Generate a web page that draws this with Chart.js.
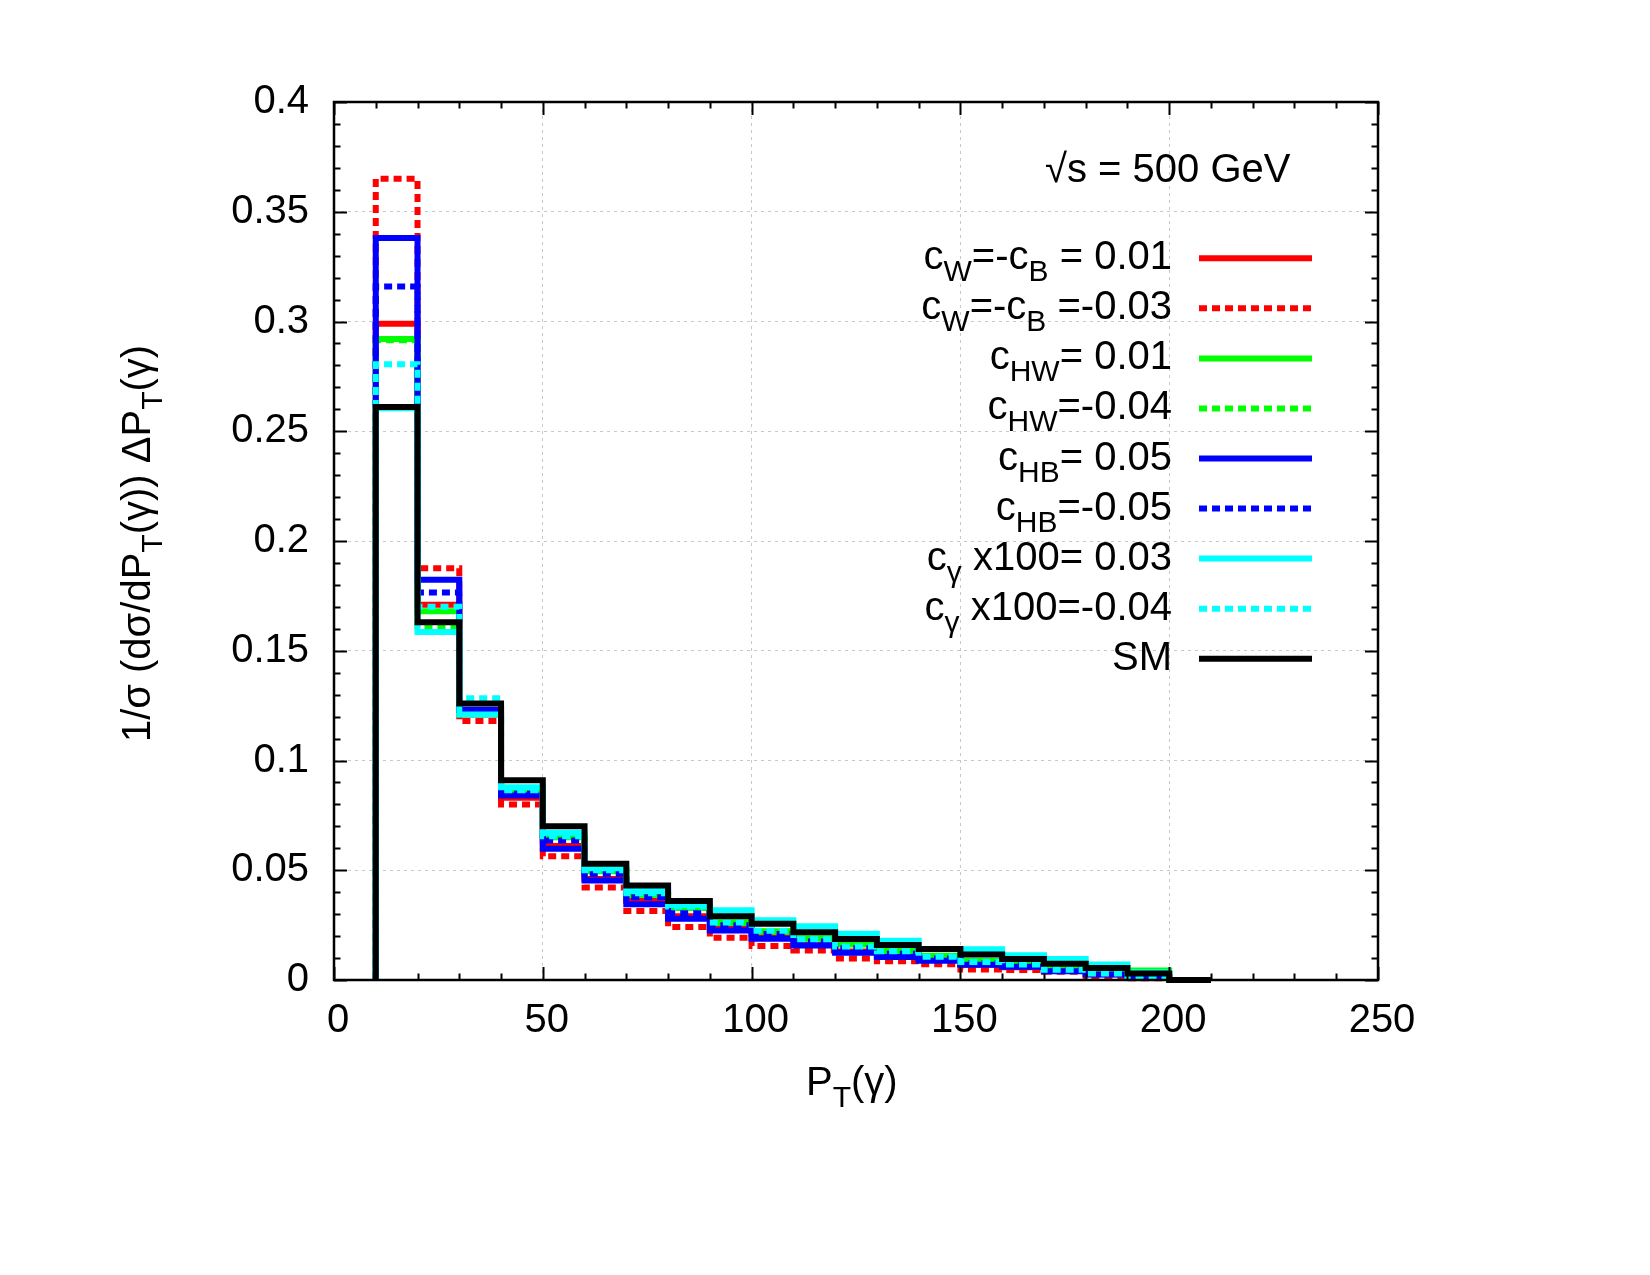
<!DOCTYPE html>
<html>
<head>
<meta charset="utf-8">
<script src="https://cdn.jsdelivr.net/npm/chart.js@4/dist/chart.umd.min.js"></script>
<style>html,body{margin:0;padding:0;background:#fff;}canvas{display:block;}</style>
</head>
<body>
<canvas id="c" width="1650" height="1275"></canvas>
<script>
// ---------- data ----------
const binLow = [10, 20, 30, 40, 50, 60, 70, 80, 90, 100, 110, 120, 130, 140, 150, 160, 170, 180, 190, 200];
const binLastEdge = 210;

const cwcbPos = [0.299, 0.171, 0.121, 0.083, 0.061, 0.046, 0.036, 0.029, 0.0235, 0.0195, 0.016, 0.013, 0.011, 0.0092, 0.0070, 0.0058, 0.0042, 0.0026, 0.0012, 0.0];
const cwcbNeg = [0.365, 0.1876, 0.118, 0.080, 0.0564, 0.0421, 0.0314, 0.0241, 0.0192, 0.0155, 0.0134, 0.0098, 0.0085, 0.0072, 0.0048, 0.0045, 0.0038, 0.0018, 0.0008, 0.0];
const chwPos  = [0.292, 0.168, 0.122, 0.086, 0.0655, 0.050, 0.039, 0.033, 0.0263, 0.0222, 0.019, 0.0165, 0.0135, 0.011, 0.0088, 0.0072, 0.0052, 0.0033, 0.0043, 0.0];
const chwNeg  = [0.2915, 0.161, 0.121, 0.0855, 0.065, 0.0495, 0.0388, 0.0328, 0.026, 0.022, 0.0188, 0.0162, 0.0132, 0.0108, 0.0086, 0.007, 0.005, 0.0032, 0.0035, 0.0];
const chbPos  = [0.338, 0.1823, 0.1231, 0.0841, 0.0598, 0.0453, 0.0345, 0.0279, 0.0226, 0.0188, 0.0157, 0.0124, 0.0105, 0.0088, 0.0070, 0.0060, 0.0040, 0.0025, 0.0010, 0.0];
const chbNeg  = [0.316, 0.1765, 0.123, 0.085, 0.0636, 0.0484, 0.0377, 0.0304, 0.025, 0.021, 0.0175, 0.0145, 0.012, 0.0098, 0.0078, 0.0066, 0.0045, 0.0028, 0.0012, 0.0];
const cgPos   = [0.2605, 0.1585, 0.121, 0.0878, 0.0671, 0.0509, 0.0405, 0.0342, 0.0318, 0.0272, 0.0245, 0.0211, 0.0179, 0.0141, 0.0140, 0.0113, 0.0096, 0.0071, 0.0035, 0.0];
const cgNeg   = [0.2805, 0.170, 0.1284, 0.0865, 0.0655, 0.0500, 0.0395, 0.0335, 0.0262, 0.0224, 0.0186, 0.0153, 0.0131, 0.0106, 0.0082, 0.0071, 0.0047, 0.0030, 0.0010, 0.0];
const smVals  = [0.261, 0.163, 0.126, 0.091, 0.070, 0.053, 0.043, 0.036, 0.029, 0.0256, 0.0217, 0.0187, 0.0160, 0.0141, 0.0116, 0.0096, 0.0074, 0.0055, 0.0030, 0.0];

const xTicks = [0, 50, 100, 150, 200, 250];
const xTickLabels = ['0', '50', '100', '150', '200', '250'];
const yTicks = [0, 0.05, 0.1, 0.15, 0.2, 0.25, 0.3, 0.35, 0.4];
const yTickLabels = ['0', '0.05', '0.1', '0.15', '0.2', '0.25', '0.3', '0.35', '0.4'];

// legend texts as [text, isSubscript] segments
const legendTexts = [
  [['c',0],['W',1],['=-c',0],['B',1],[' = 0.01',0]],
  [['c',0],['W',1],['=-c',0],['B',1],[' =-0.03',0]],
  [['c',0],['HW',1],['= 0.01',0]],
  [['c',0],['HW',1],['=-0.04',0]],
  [['c',0],['HB',1],['= 0.05',0]],
  [['c',0],['HB',1],['=-0.05',0]],
  [['c',0],['\u03b3',1],[' x100= 0.03',0]],
  [['c',0],['\u03b3',1],[' x100=-0.04',0]],
  [['SM',0]]
];
const energyLabel = [['\u221as = 500 GeV',0]];
const xTitle = [['P',0],['T',1],['(\u03b3)',0]];
const yTitle = [['1/\u03c3 (d\u03c3/dP',0],['T',1],['(\u03b3)) \u0394P',0],['T',1],['(\u03b3)',0]];

// ---------- styles ----------
const seriesValues = [cwcbPos, cwcbNeg, chwPos, chwNeg, chbPos, chbNeg, cgPos, cgNeg, smVals];
const seriesColors = ['#ff0000','#ff0000','#00ff00','#00ff00','#0000ff','#0000ff','#00ffff','#00ffff','#000000'];
const seriesDashed = [false, true, false, true, false, true, false, true, false];
const DASH = [8, 5];
const LW = 6;
const FONT = '"Liberation Sans", Arial, Helvetica, sans-serif';

function stepPoints(vals) {
  const pts = [{x: binLow[0], y: 0}];
  binLow.forEach((x, i) => pts.push({x: x, y: vals[i]}));
  pts.push({x: binLastEdge, y: vals[vals.length - 1]});
  return pts;
}

const datasets = seriesValues.map((vals, i) => ({
  data: stepPoints(vals),
  borderColor: seriesColors[i],
  backgroundColor: seriesColors[i],
  borderWidth: LW,
  borderDash: seriesDashed[i] ? DASH : [],
  borderCapStyle: 'butt',
  borderJoinStyle: 'miter',
  stepped: 'before',
  pointRadius: 0,
  fill: false,
  clip: 6,
  order: seriesValues.length - 1 - i
}));

function richWidth(ctx, segs, main, sub) {
  let w = 0;
  segs.forEach(([t, s]) => { ctx.font = (s ? sub : main) + 'px ' + FONT; w += ctx.measureText(t).width; });
  return w;
}
function drawRich(ctx, segs, x, baseline, align, main = 40, sub = 30, shift = 12) {
  const w = richWidth(ctx, segs, main, sub);
  let cx = align === 'right' ? x - w : (align === 'center' ? x - w / 2 : x);
  ctx.textAlign = 'left';
  ctx.textBaseline = 'alphabetic';
  ctx.fillStyle = '#000';
  segs.forEach(([t, s]) => {
    ctx.font = (s ? sub : main) + 'px ' + FONT;
    ctx.fillText(t, cx, baseline + (s ? shift : 0));
    cx += ctx.measureText(t).width;
  });
}

const decor = {
  id: 'decor',
  afterDraw(chart) {
    const ctx = chart.ctx, xs = chart.scales.x, ys = chart.scales.y, a = chart.chartArea;
    ctx.save();
    ctx.setLineDash([]);
    ctx.strokeStyle = '#000';
    ctx.lineWidth = 2;
    ctx.beginPath();
    for (let i = 0; i <= 25; i++) {
      const v = i * 10, px = Math.round(xs.getPixelForValue(v)) + 0.5;
      const L = (i % 5 === 0) ? 13 : 6.5;
      ctx.moveTo(px, a.bottom); ctx.lineTo(px, a.bottom - L);
      ctx.moveTo(px, a.top); ctx.lineTo(px, a.top + L);
    }
    for (let i = 0; i <= 40; i++) {
      const v = i / 100, py = Math.round(ys.getPixelForValue(v)) + 0.5;
      const L = (i % 5 === 0) ? 13 : 6.5;
      ctx.moveTo(a.left, py); ctx.lineTo(a.left + L, py);
      ctx.moveTo(a.right, py); ctx.lineTo(a.right - L, py);
    }
    ctx.stroke();
    ctx.lineWidth = 2.5;
    ctx.strokeRect(a.left, a.top, a.right - a.left, a.bottom - a.top);

    // legend
    for (let i = 0; i < legendTexts.length; i++) {
      const ly = 258.3 + 50.05 * i;
      ctx.beginPath();
      ctx.strokeStyle = seriesColors[i];
      ctx.lineWidth = LW;
      ctx.lineCap = 'butt';
      ctx.setLineDash(seriesDashed[i] ? DASH : []);
      ctx.moveTo(1199, ly); ctx.lineTo(1312, ly);
      ctx.stroke();
      ctx.setLineDash([]);
      drawRich(ctx, legendTexts[i], 1172, ly + 11, 'right');
    }
    drawRich(ctx, energyLabel, 1045, 181.7, 'left');
    // axis titles
    drawRich(ctx, xTitle, 806, 1095, 'left');
    ctx.save();
    ctx.translate(150, 543.5);
    ctx.rotate(-Math.PI / 2);
    drawRich(ctx, yTitle, 0, 0, 'center');
    ctx.restore();
    ctx.restore();
  }
};

new Chart(document.getElementById('c').getContext('2d'), {
  type: 'line',
  data: { datasets },
  options: {
    responsive: false,
    animation: false,
    devicePixelRatio: 1,
    layout: { padding: { left: 34, right: 272, top: 102, bottom: 235 } },
    plugins: { legend: { display: false }, tooltip: { enabled: false } },
    scales: {
      x: {
        type: 'linear', min: 0, max: 250,
        afterBuildTicks: s => { s.ticks = xTicks.map(v => ({ value: v })); },
        afterFit: s => { s.height = 60; },
        ticks: {
          font: { family: FONT, size: 40 }, color: '#000', padding: 17, labelOffset: 4,
          maxRotation: 0, autoSkip: false,
          callback: (v, i) => xTickLabels[i]
        },
        grid: { color: '#c8c8c8', lineWidth: 1, drawTicks: false },
        border: { display: false, dash: [3, 4] }
      },
      y: {
        type: 'linear', min: 0, max: 0.4,
        afterBuildTicks: s => { s.ticks = yTicks.map(v => ({ value: v })); },
        afterFit: s => { s.width = 300; },
        ticks: {
          font: { family: FONT, size: 40 }, color: '#000', padding: 25,
          autoSkip: false,
          callback: (v, i) => yTickLabels[i]
        },
        grid: { color: '#c8c8c8', lineWidth: 1, drawTicks: false },
        border: { display: false, dash: [3, 4] }
      }
    }
  },
  plugins: [decor]
});
</script>
</body>
</html>
